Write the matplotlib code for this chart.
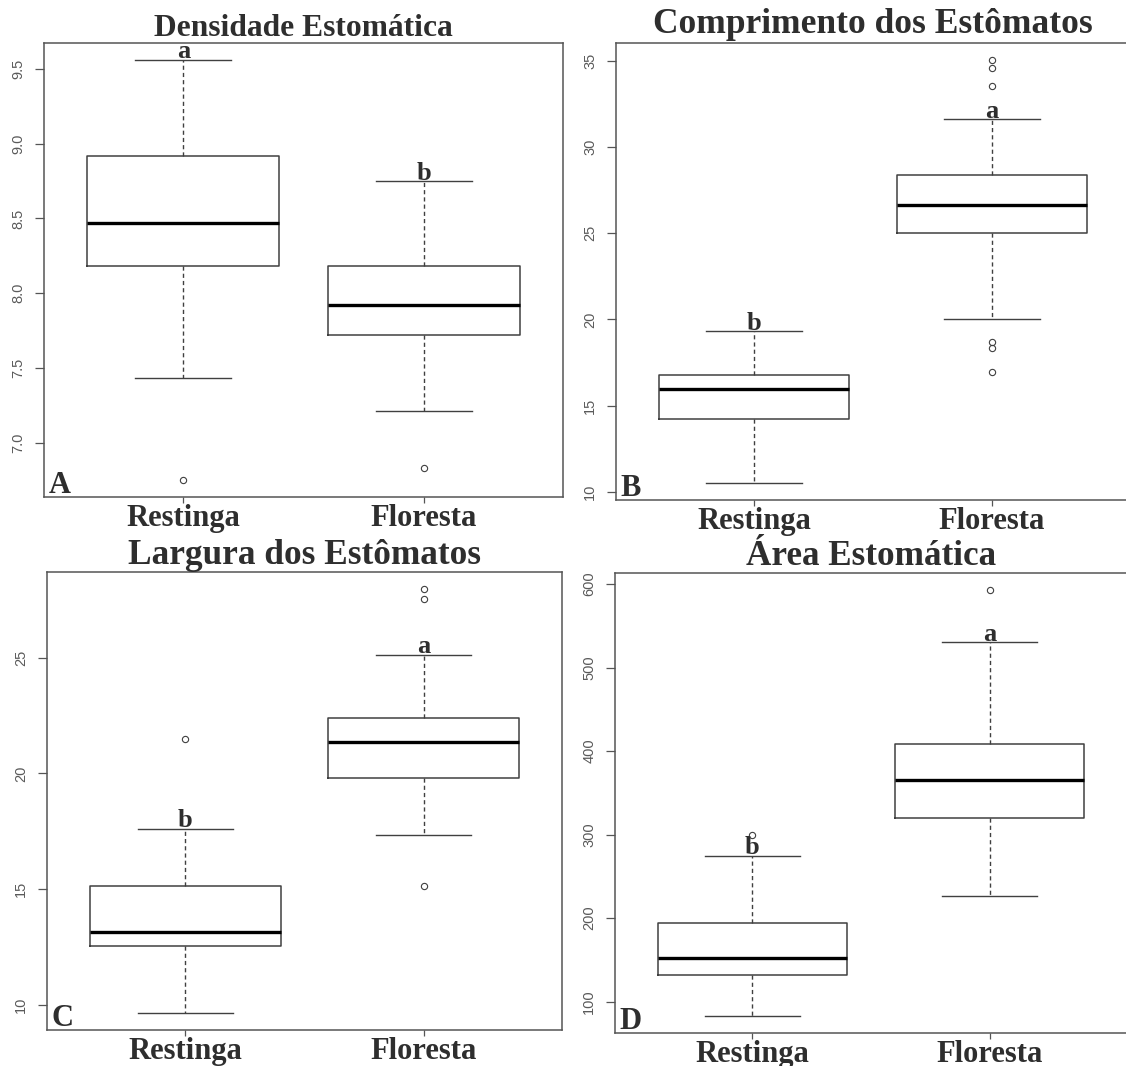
import matplotlib
matplotlib.use("Agg")
from matplotlib import pyplot as plt

# grupos
groups = ['Restinga', 'Floresta']

# A - Densidade Estomática (lo whisker, Q1, mediana, Q3, hi whisker)
dens_stats = [[7.43, 8.18, 8.47, 8.92, 9.56], [7.21, 7.72, 7.92, 8.18, 8.75]]
dens_out = [[6.75], [6.83]]

# B - Comprimento dos Estômatos
comp_stats = [[10.5, 14.22, 15.98, 16.79, 19.33], [20.0, 25.0, 26.66, 28.38, 31.61]]
comp_out = [[], [35.06, 34.57, 33.55, 18.71, 18.32, 16.93]]

# C - Largura dos Estômatos
larg_stats = [[9.64, 12.52, 13.16, 15.15, 17.62], [17.32, 19.82, 21.37, 22.38, 25.14]]
larg_out = [[21.48], [27.98, 27.56, 15.12]]

# D - Área Estomática
area_stats = [[82.9, 132.5, 152.1, 194.6, 274.6], [227.1, 320.0, 365.4, 408.7, 530.4]]
area_out = [[300.0], [592.9]]

titles = ['Densidade Estomática', 'Comprimento dos Estômatos',
          'Largura dos Estômatos', 'Área Estomática']
panel_letters = ['A', 'B', 'C', 'D']
signif = [['a', 'b'], ['b', 'a'], ['b', 'a'], ['b', 'a']]
yticks = [[7.0, 7.5, 8.0, 8.5, 9.0, 9.5], [10, 15, 20, 25, 30, 35],
          [10, 15, 20, 25], [100, 200, 300, 400, 500, 600]]
ytick_labels = [['7.0', '7.5', '8.0', '8.5', '9.0', '9.5'],
                ['10', '15', '20', '25', '30', '35'],
                ['10', '15', '20', '25'],
                ['100', '200', '300', '400', '500', '600']]

all_stats = [dens_stats, comp_stats, larg_stats, area_stats]
all_out = [dens_out, comp_out, larg_out, area_out]

# posições dos painéis em pixels (left, top, right, bottom)
W, H = 1126, 1066
boxes_px = [(44, 43, 563, 497), (616, 43, 1130, 500),
            (47, 572, 562, 1030), (615, 573, 1127, 1033)]
title_sizes = [22.7, 25.5, 25.4, 25.3]
title_pads = [2, 7, 5, 4.3]

serif = 'Liberation Serif'
frame_col = '#555555'
line_col = '#404040'
text_col = '#2e2e2e'

fig = plt.figure(figsize=(W / 100, H / 100), dpi=100)

for k in range(4):
    l, t, r, b = boxes_px[k]
    ax = fig.add_axes([l / W, 1 - b / H, (r - l) / W, (b - t) / H])

    bxp_stats = []
    for i, g in enumerate(groups):
        lo, q1, med, q3, hi = all_stats[k][i]
        bxp_stats.append({'label': g, 'whislo': lo, 'q1': q1, 'med': med,
                          'q3': q3, 'whishi': hi, 'fliers': all_out[k][i]})

    ax.bxp(bxp_stats, positions=[1, 2], widths=0.8, capwidths=0.4,
           boxprops={'color': line_col, 'linewidth': 1.1},
           medianprops={'color': 'black', 'linewidth': 2.4},
           whiskerprops={'color': line_col, 'linewidth': 1.0, 'linestyle': (0, (3, 2.2))},
           capprops={'color': line_col, 'linewidth': 1.0},
           flierprops={'marker': 'o', 'markerfacecolor': 'none',
                       'markeredgecolor': line_col, 'markersize': 4.5, 'markeredgewidth': 0.8})

    # limites no estilo R (+4%)
    vals = [v for s in all_stats[k] for v in s] + [v for o in all_out[k] for v in o]
    lo_v, hi_v = min(vals), max(vals)
    pad = 0.04 * (hi_v - lo_v)
    ax.set_ylim(lo_v - pad, hi_v + pad)
    ax.set_xlim(0.42, 2.58)

    ax.set_yticks(yticks[k])
    ax.set_yticklabels(ytick_labels[k], rotation=90, va='center',
                       fontsize=10.5, color='#5a5a5a', family='Liberation Sans')
    ax.set_xticks([1, 2])
    ax.set_xticklabels(groups, fontsize=22, fontweight='bold', family=serif, color=text_col)
    ax.tick_params(axis='y', length=6.5, width=0.9, color=frame_col, pad=7)
    ax.tick_params(axis='x', length=4, width=0.9, color=frame_col, pad=1)

    for sp in ax.spines.values():
        sp.set_color(frame_col)
        sp.set_linewidth(1.1)

    ax.set_title(titles[k], fontsize=title_sizes[k], fontweight='bold', family=serif,
                 color=text_col, pad=title_pads[k])

    ax.annotate(panel_letters[k], xy=(0, 0), xycoords='axes fraction',
                xytext=(3.5, 3), textcoords='offset points', fontsize=22,
                fontweight='bold', family=serif, color=text_col,
                ha='left', va='baseline')

    # letras de significância acima do whisker superior
    for i in range(2):
        ax.annotate(signif[k][i], xy=(i + 1, all_stats[k][i][4]), xycoords='data',
                    xytext=(0, 1), textcoords='offset points', fontsize=19,
                    fontweight='bold', family=serif, color=text_col,
                    ha='center', va='baseline')

plt.savefig('out.png', dpi=100)
